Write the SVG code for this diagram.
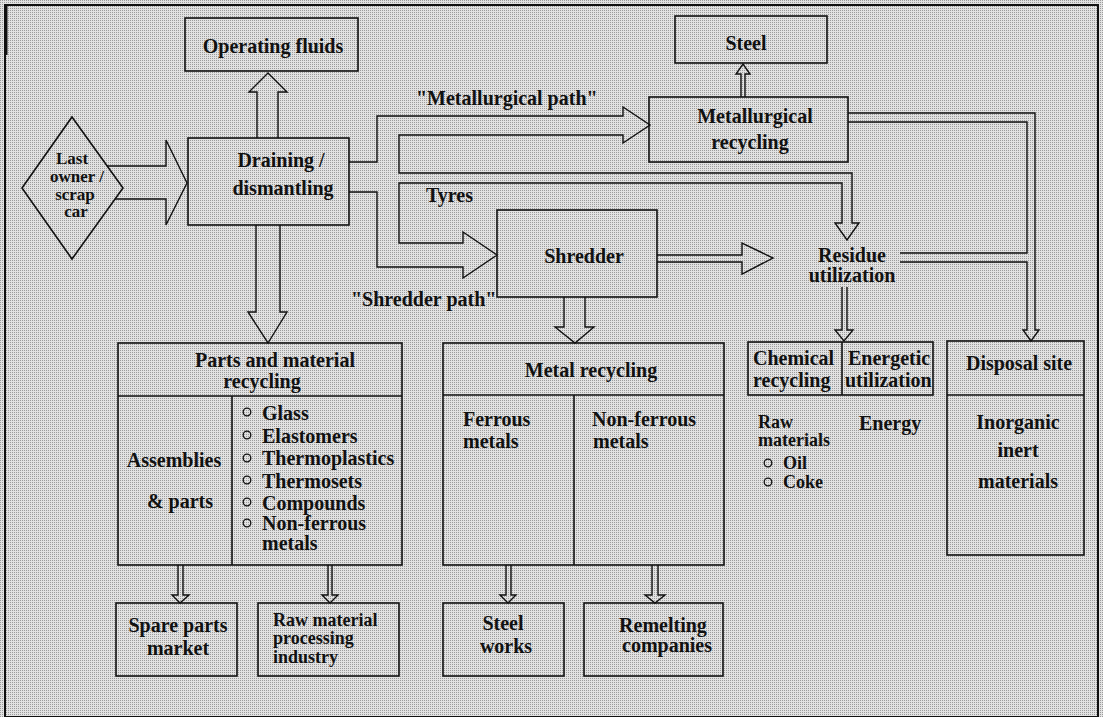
<svg xmlns="http://www.w3.org/2000/svg" width="1103" height="717" viewBox="0 0 1103 717">
  <defs>
    <pattern id="screen" width="2" height="2" patternUnits="userSpaceOnUse">
      <rect width="2" height="2" fill="#e2e2e2"/>
      <rect width="1" height="1" fill="#9c9c9c"/>
    </pattern>
    <style>
      .box { fill: none; stroke: #111; stroke-width: 1.6; }
      .ln { fill: none; stroke: #111; stroke-width: 1.4; stroke-linejoin: miter; }
      .t { font-family: "Liberation Serif", "Times New Roman", serif; font-size: 20px; font-weight: bold; fill: #111; }
      .s { font-size: 18px; }
      .xs { font-size: 17px; }
      .c { text-anchor: middle; }
      .dot { fill: none; stroke: #111; stroke-width: 1.3; }
    </style>
  </defs>

  <!-- halftone page background and frame -->
  <rect x="0" y="0" width="1103" height="717" fill="url(#screen)"/>
  <rect x="5" y="5" width="1093" height="712" fill="none" stroke="#111" stroke-width="2"/>
  <line x1="6" y1="5" x2="6" y2="55" stroke="#111" stroke-width="3"/>

  <!-- connectors -->
  <g id="connectors">
    <!-- last owner to draining -->
    <path class="ln" d="M107,166 L166,166 L166,140 L187,183 L166,225 L166,199 L115,199"/>
    <!-- draining to operating fluids -->
    <path class="ln" d="M257,138 L257,92 L249,92 L268,73 L287,92 L278,92 L278,138"/>
    <!-- draining to parts and material recycling -->
    <path class="ln" d="M256,225 L256,312 L248,312 L268,343 L287,312 L280,312 L280,225"/>
    <!-- metallurgical path -->
    <path class="ln" d="M349,162 L377,162 L377,116 L623,116 L623,107 L650,125 L623,143 L623,135 L399,135 L399,173 L852,173 L852,223 L859,223 L847,240 L835,223 L842,223 L842,183 L399,183 L399,243 L463,243 L463,232 L497,255 L463,278 L463,267 L377,267 L377,192 L349,192"/>
    <!-- shredder to residue utilization -->
    <path class="ln" d="M657,255 L742,255 L742,243 L773,258 L742,274 L742,262 L657,262"/>
    <!-- shredder to metal recycling -->
    <path class="ln" d="M564,297 L564,327 L555,327 L575,343 L594,327 L585,327 L585,297"/>
    <!-- metallurgical recycling to steel -->
    <path class="ln" d="M741,97 L741,74 L736,74 L743,64 L750,74 L745,74 L745,97"/>
    <!-- metallurgical recycling and residue utilization to disposal site -->
    <path class="ln" d="M848,113 L1035,113 L1035,330 L1039,330 L1031,341 L1023,330 L1027,330 L1027,262 L900,262"/>
    <path class="ln" d="M900,253 L1027,253 L1027,122 L848,122"/>
    <!-- residue utilization to chemical / energetic -->
    <path class="ln" d="M842,287 L842,330 L835,330 L844,341 L853,330 L847,330 L847,287"/>
    <!-- parts to markets -->
    <path class="ln" d="M178,565 L178,595 L172,595 L180,603 L189,595 L183,595 L183,565"/>
    <path class="ln" d="M328,565 L328,595 L322,595 L330,603 L338,595 L332,595 L332,565"/>
    <!-- metals to works -->
    <path class="ln" d="M506,565 L506,595 L500,595 L508,603 L516,595 L511,595 L511,565"/>
    <path class="ln" d="M652,565 L652,595 L645,595 L655,603 L665,595 L658,595 L658,565"/>
  </g>

  <!-- path labels -->
  <g id="labels">
    <text class="t" x="416" y="105">"Metallurgical path"</text>
    <text class="t" x="426" y="202">Tyres</text>
    <text class="t" x="351" y="306">"Shredder path"</text>
  </g>

  <g id="last-owner">
    <polygon class="box" points="72,117 123,188 72,259 22,188"/>
    <text class="t xs c" x="72" y="164">Last</text>
    <text class="t xs c" x="77" y="182">owner /</text>
    <text class="t xs c" x="75" y="200">scrap</text>
    <text class="t xs c" x="76" y="217">car</text>
  </g>

  <g id="operating-fluids">
    <rect class="box" x="185" y="18" width="173" height="53"/>
    <text class="t c" x="273" y="53">Operating fluids</text>
  </g>

  <g id="draining">
    <rect class="box" x="188" y="138" width="161" height="87"/>
    <text class="t c" x="281" y="167">Draining /</text>
    <text class="t c" x="283" y="195">dismantling</text>
  </g>

  <g id="steel">
    <rect class="box" x="675" y="16" width="152" height="47"/>
    <text class="t c" x="746" y="50">Steel</text>
  </g>

  <g id="metallurgical-recycling">
    <rect class="box" x="649" y="97" width="199" height="65"/>
    <text class="t c" x="755" y="123">Metallurgical</text>
    <text class="t c" x="750" y="149">recycling</text>
  </g>

  <g id="shredder">
    <rect class="box" x="497" y="210" width="160" height="87"/>
    <text class="t c" x="584" y="263">Shredder</text>
  </g>

  <g id="residue-utilization">
    <text class="t c" x="852" y="262">Residue</text>
    <text class="t c" x="852" y="282">utilization</text>
  </g>

  <g id="parts-recycling">
    <rect class="box" x="118" y="343" width="284" height="222"/>
    <line class="box" x1="118" y1="396" x2="402" y2="396"/>
    <line class="box" x1="232" y1="396" x2="232" y2="565"/>
    <text class="t c" x="275" y="367">Parts and material</text>
    <text class="t c" x="262" y="388">recycling</text>
    <text class="t c" x="174" y="467">Assemblies</text>
    <text class="t c" x="180" y="508">&amp; parts</text>
    <circle class="dot" cx="247" cy="412" r="3.8"/>
    <circle class="dot" cx="247" cy="435" r="3.8"/>
    <circle class="dot" cx="247" cy="458" r="3.8"/>
    <circle class="dot" cx="247" cy="480" r="3.8"/>
    <circle class="dot" cx="247" cy="502" r="3.8"/>
    <circle class="dot" cx="247" cy="523" r="3.8"/>
    <text class="t" x="262" y="420">Glass</text>
    <text class="t" x="262" y="443">Elastomers</text>
    <text class="t" x="262" y="465">Thermoplastics</text>
    <text class="t" x="262" y="488">Thermosets</text>
    <text class="t" x="262" y="510">Compounds</text>
    <text class="t" x="262" y="530">Non-ferrous</text>
    <text class="t" x="262" y="550">metals</text>
  </g>

  <g id="metal-recycling">
    <rect class="box" x="443" y="343" width="281" height="222"/>
    <line class="box" x1="443" y1="395" x2="724" y2="395"/>
    <line class="box" x1="574" y1="395" x2="574" y2="565"/>
    <text class="t c" x="591" y="377">Metal recycling</text>
    <text class="t" x="463" y="426">Ferrous</text>
    <text class="t" x="463" y="448">metals</text>
    <text class="t" x="592" y="426">Non-ferrous</text>
    <text class="t" x="593" y="448">metals</text>
  </g>

  <g id="chemical-energetic">
    <rect class="box" x="748" y="342" width="185" height="53"/>
    <line class="box" x1="842" y1="342" x2="842" y2="395"/>
    <text class="t" x="753" y="365">Chemical</text>
    <text class="t" x="753" y="387">recycling</text>
    <text class="t" x="848" y="365">Energetic</text>
    <text class="t" x="845" y="387">utilization</text>
    <text class="t s" x="758" y="428">Raw</text>
    <text class="t s" x="758" y="446">materials</text>
    <circle class="dot" cx="768" cy="463" r="3.8"/>
    <circle class="dot" cx="768" cy="482" r="3.8"/>
    <text class="t s" x="783" y="469">Oil</text>
    <text class="t s" x="783" y="488">Coke</text>
    <text class="t" x="859" y="430">Energy</text>
  </g>

  <g id="disposal-site">
    <rect class="box" x="947" y="341" width="137" height="214"/>
    <line class="box" x1="947" y1="395" x2="1084" y2="395"/>
    <text class="t c" x="1019" y="370">Disposal site</text>
    <text class="t c" x="1018" y="429">Inorganic</text>
    <text class="t c" x="1018" y="457">inert</text>
    <text class="t c" x="1018" y="488">materials</text>
  </g>

  <g id="spare-parts">
    <rect class="box" x="116" y="603" width="121" height="73"/>
    <text class="t c" x="178" y="632">Spare parts</text>
    <text class="t c" x="178" y="655">market</text>
  </g>

  <g id="raw-material">
    <rect class="box" x="258" y="603" width="141" height="73"/>
    <text class="t s" x="273" y="626">Raw material</text>
    <text class="t s" x="273" y="644">processing</text>
    <text class="t s" x="273" y="663">industry</text>
  </g>

  <g id="steel-works">
    <rect class="box" x="443" y="603" width="121" height="73"/>
    <text class="t c" x="503" y="630">Steel</text>
    <text class="t c" x="506" y="653">works</text>
  </g>

  <g id="remelting">
    <rect class="box" x="584" y="603" width="139" height="73"/>
    <text class="t c" x="663" y="632">Remelting</text>
    <text class="t c" x="667" y="652">companies</text>
  </g>
</svg>
